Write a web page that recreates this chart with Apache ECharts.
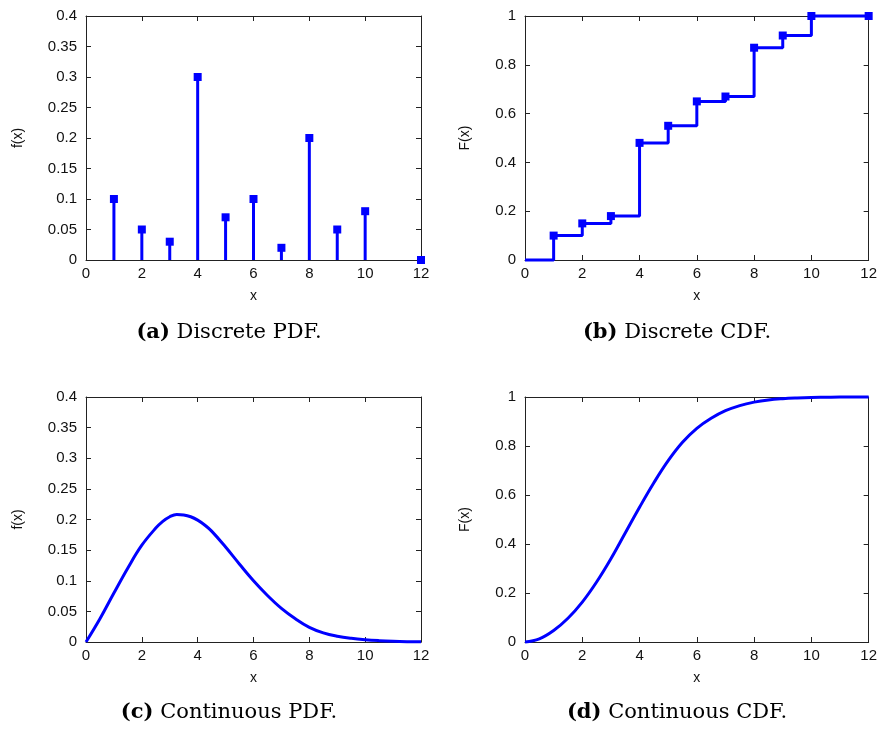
<!DOCTYPE html>
<html>
<head>
<meta charset="utf-8">
<script src="https://cdn.jsdelivr.net/npm/echarts@6/dist/echarts.min.js"></script>
<style>
html,body{margin:0;padding:0;background:#fff;}
#chart{width:880px;height:729px;}
</style>
</head>
<body>
<div id="chart"></div>
<script>
// ---- data ----
const discreteX = [1, 2, 3, 4, 5, 6, 7, 8, 9, 10, 12];
const discretePdf = [0.1, 0.05, 0.03, 0.3, 0.07, 0.1, 0.02, 0.2, 0.05, 0.08, 0];
const cdfX = [0, 1, 2, 3, 4, 5, 6, 7, 8, 9, 10, 12];
const discreteCdf = [0, 0.1, 0.15, 0.18, 0.48, 0.55, 0.65, 0.67, 0.87, 0.92, 1.0, 1.0];
const contPdfX = [0, 0.5, 1, 1.5, 2, 2.5, 2.75, 3, 3.25, 3.5, 3.75, 4, 4.25, 4.5, 5, 5.5, 6, 6.5, 7, 7.5, 8, 8.5, 9, 9.5, 10, 10.5, 11, 11.5, 12];
const contPdf = [0, 0.038, 0.080, 0.121, 0.158, 0.186, 0.197, 0.2045, 0.2083, 0.2075, 0.2045, 0.199, 0.191, 0.181, 0.155, 0.127, 0.100, 0.076, 0.055, 0.038, 0.024, 0.015, 0.0095, 0.006, 0.0037, 0.0022, 0.0012, 0.0006, 0.0003];
const contCdfX = [0, 0.5, 1, 1.5, 2, 2.5, 3, 3.5, 4, 4.5, 5, 5.5, 6, 6.5, 7, 7.5, 8, 8.5, 9, 9.5, 10, 10.5, 11, 11.5, 12];
const contCdf = [0, 0.013, 0.047, 0.097, 0.163, 0.245, 0.34, 0.445, 0.55, 0.65, 0.74, 0.815, 0.872, 0.913, 0.944, 0.965, 0.979, 0.988, 0.993, 0.996, 0.998, 0.999, 1, 1, 1];
const captions = [
  ['(a)', ' Discrete PDF.'],
  ['(b)', ' Discrete CDF.'],
  ['(c)', ' Continuous PDF.'],
  ['(d)', ' Continuous CDF.']
];
const yNames = ['f(x)', 'F(x)', 'f(x)', 'F(x)'];
const xName = 'x';

// ---- layout ----
const grids = [
  {left: 86, top: 16, width: 335, height: 244},
  {left: 525, top: 16, width: 344, height: 244},
  {left: 86, top: 397, width: 335, height: 245},
  {left: 525, top: 397, width: 344, height: 245}
];
const yRanges = [[0, 0.4, 0.05], [0, 1, 0.2], [0, 0.4, 0.05], [0, 1, 0.2]];
const yNameGaps = [61, 53, 61, 53];
const captionPos = [[229, 333], [677, 333], [229, 713], [677, 713]];

const BLUE = '#0000ff';
const TXT = '#111';
const SANS = '"Liberation Sans", Arial, Helvetica, sans-serif';
const SERIF = '"DejaVu Serif", serif';

const xAxes = [], yAxes = [];
grids.forEach((g, i) => {
  const lineStyle = {color: '#222', width: 1};
  xAxes.push({
    type: 'value', gridIndex: i, position: 'bottom', min: 0, max: 12, interval: 2,
    name: xName, nameLocation: 'middle', nameGap: 29,
    nameTextStyle: {fontFamily: SANS, fontSize: 14, color: TXT},
    axisLine: {show: true, onZero: false, lineStyle}, splitLine: {show: false},
    axisTick: {show: true, inside: true, length: 5, lineStyle},
    axisLabel: {fontFamily: SANS, fontSize: 15, color: TXT, margin: 6}
  });
  xAxes.push({
    type: 'value', gridIndex: i, position: 'top', min: 0, max: 12, interval: 2,
    axisLine: {show: true, onZero: false, lineStyle}, splitLine: {show: false},
    axisTick: {show: true, inside: true, length: 5, lineStyle},
    axisLabel: {show: false}
  });
  const [ymin, ymax, yint] = yRanges[i];
  yAxes.push({
    type: 'value', gridIndex: i, position: 'left', min: ymin, max: ymax, interval: yint,
    name: yNames[i], nameLocation: 'middle', nameGap: yNameGaps[i],
    nameTextStyle: {fontFamily: SANS, fontSize: 14, color: TXT},
    axisLine: {show: true, onZero: false, lineStyle}, splitLine: {show: false},
    axisTick: {show: true, inside: true, length: 5, lineStyle},
    axisLabel: {fontFamily: SANS, fontSize: 15, color: TXT, margin: 9}
  });
  yAxes.push({
    type: 'value', gridIndex: i, position: 'right', min: ymin, max: ymax, interval: yint,
    axisLine: {show: true, onZero: false, lineStyle}, splitLine: {show: false},
    axisTick: {show: true, inside: true, length: 5, lineStyle},
    axisLabel: {show: false}
  });
});

const pdfPairs = discreteX.map((x, i) => [x, discretePdf[i]]);
const cdfPairs = cdfX.map((x, i) => i === 0 ? {value: [x, discreteCdf[i]], symbol: 'none'} : [x, discreteCdf[i]]);
const contPdfPairs = contPdfX.map((x, i) => [x, contPdf[i]]);
const contCdfPairs = contCdfX.map((x, i) => [x, contCdf[i]]);

const series = [
  {type: 'bar', xAxisIndex: 0, yAxisIndex: 0, data: pdfPairs, barWidth: 3,
   itemStyle: {color: BLUE, opacity: 1}, silent: true, animation: false},
  {type: 'scatter', xAxisIndex: 0, yAxisIndex: 0, data: pdfPairs, symbol: 'rect', symbolSize: 8,
   itemStyle: {color: BLUE, opacity: 1}, clip: false, z: 5, animation: false},
  {type: 'line', xAxisIndex: 2, yAxisIndex: 2, data: cdfPairs, step: 'end', symbol: 'rect', symbolSize: 8,
   showAllSymbol: true, lineStyle: {color: BLUE, width: 3}, itemStyle: {color: BLUE, opacity: 1}, clip: false, z: 5, animation: false},
  {type: 'line', xAxisIndex: 4, yAxisIndex: 4, data: contPdfPairs, smooth: 0.4, showSymbol: false,
   symbol: 'none', lineStyle: {color: BLUE, width: 3}, clip: false, animation: false},
  {type: 'line', xAxisIndex: 6, yAxisIndex: 6, data: contCdfPairs, smooth: 0.4, showSymbol: false,
   symbol: 'none', lineStyle: {color: BLUE, width: 3}, clip: false, animation: false}
];

const graphic = captions.map((c, i) => ({
  type: 'text', x: captionPos[i][0], y: captionPos[i][1],
  style: {
    text: '{b|' + c[0] + '}{r|' + c[1] + '}',
    align: 'center', verticalAlign: 'middle',
    rich: {
      b: {fontFamily: SERIF, fontSize: 21, fontWeight: 'bold', fill: '#000'},
      r: {fontFamily: SERIF, fontSize: 21, fill: '#000'}
    }
  }
}));

const chart = echarts.init(document.getElementById('chart'), null, {renderer: 'canvas'});
chart.setOption({
  backgroundColor: '#fff',
  animation: false,
  grid: grids,
  xAxis: xAxes,
  yAxis: yAxes,
  series,
  graphic
});
</script>
</body>
</html>
